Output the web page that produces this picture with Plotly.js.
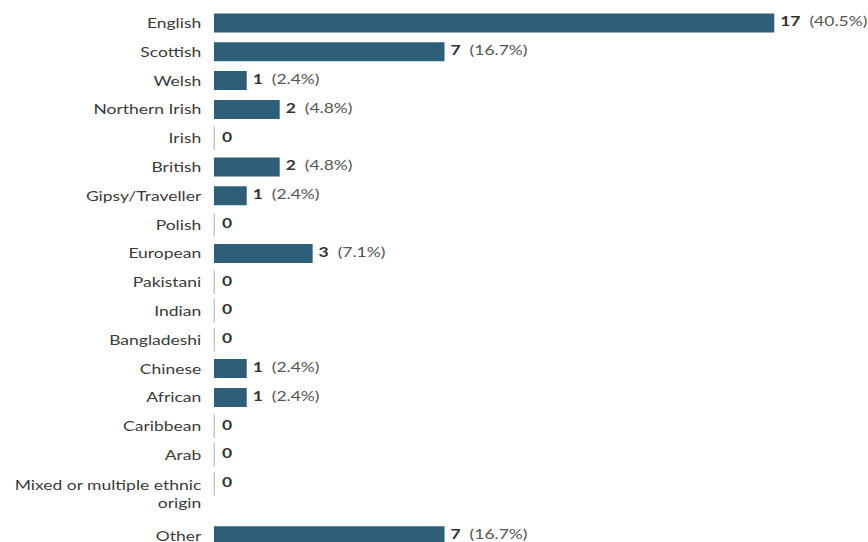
<!DOCTYPE html>
<html>
<head>
<meta charset="utf-8">
<script src="https://cdn.plot.ly/plotly-3.0.1.min.js"></script>
<style>
html,body{margin:0;padding:0;background:#fff;overflow:hidden;}
#wrap{width:868px;height:542px;overflow:hidden;}
#chart{width:694.4px;height:542px;transform:scaleX(1.25);transform-origin:0 0;}
</style>
</head>
<body>
<div id="wrap"><div id="chart"></div></div>
<script>
// ---- data ----
const categories = ["English","Scottish","Welsh","Northern Irish","Irish","British","Gipsy/Traveller","Polish","European","Pakistani","Indian","Bangladeshi","Chinese","African","Caribbean","Arab","Mixed or multiple ethnic origin","Other"];
const counts = [17,7,1,2,0,2,1,0,3,0,0,0,1,1,0,0,0,7];

// ---- derived ----
const total = counts.reduce((a,b)=>a+b,0);
function wrap(s, max){
  const words = s.split(" "); const lines=[]; let cur="";
  words.forEach(w=>{ const t = cur? cur+" "+w : w; if (t.length>max && cur){lines.push(cur); cur=w;} else cur=t; });
  if (cur) lines.push(cur); return lines;
}
const wrapped = categories.map(c=>wrap(c,24));
const pos=[]; const tickPos=[];
wrapped.forEach((l,i)=>{
  const p = i===0 ? 0 : pos[i-1] + 1 + 0.8*(wrapped[i-1].length-1);
  pos.push(p);
  tickPos.push(p + 0.35*(l.length-1));
});
const tickText = wrapped.map(l=>l.join("<br>"));
const labels = counts.map(v => v>0 ? "<b>"+v+"</b>  <span style='color:#555'>("+(100*v/total).toFixed(1)+"%)</span>" : "<b>0</b>");
const zeroY = pos.filter((p,i)=>counts[i]===0);
const zeroX = zeroY.map(()=>0);

const rowPx = 28.8, firstPx = 23, H = 542;
const yTop = -firstPx/rowPx, yBot = yTop + H/rowPx;

const traces = [
  {type:"bar", orientation:"h", x:counts, y:pos, width:0.66,
   marker:{color:"#2e5f78"}, hoverinfo:"skip", showlegend:false},
  {type:"scatter", mode:"markers", x:zeroX, y:zeroY,
   marker:{symbol:"line-ns", size:17, line:{width:1.2, color:"#8a9aa5"}}, hoverinfo:"skip", showlegend:false},
  {type:"scatter", mode:"markers+text", x:counts, y:pos, text:labels, textposition:"middle right",
   marker:{size:counts.map(v=>v>0?6:9), opacity:0, color:"#fff"},
   textfont:{family:"Lato, sans-serif", size:14, color:"#333"}, hoverinfo:"skip", showlegend:false, cliponaxis:false}
];

const layout = {
  width:694.4, height:542,
  margin:{l:171.2, r:5.8, t:0, b:0, pad:0},
  paper_bgcolor:"#fff", plot_bgcolor:"#fff",
  font:{family:"Lato, sans-serif", size:14, color:"#3a3a3a"},
  xaxis:{range:[0,19.6], showgrid:false, zeroline:false, showticklabels:false, showline:false, fixedrange:true},
  yaxis:{range:[yBot, yTop], tickmode:"array", tickvals:tickPos, ticktext:tickText,
         showgrid:false, zeroline:false, showline:false, ticks:"", ticklabelstandoff:9,
         ticklabeloverflow:"allow",
         tickfont:{family:"Lato, sans-serif", size:14, color:"#3a3a3a"}, fixedrange:true},
  bargap:0.3
};
Plotly.newPlot("chart", traces, layout, {displayModeBar:false, staticPlot:true});
</script>
</body>
</html>
